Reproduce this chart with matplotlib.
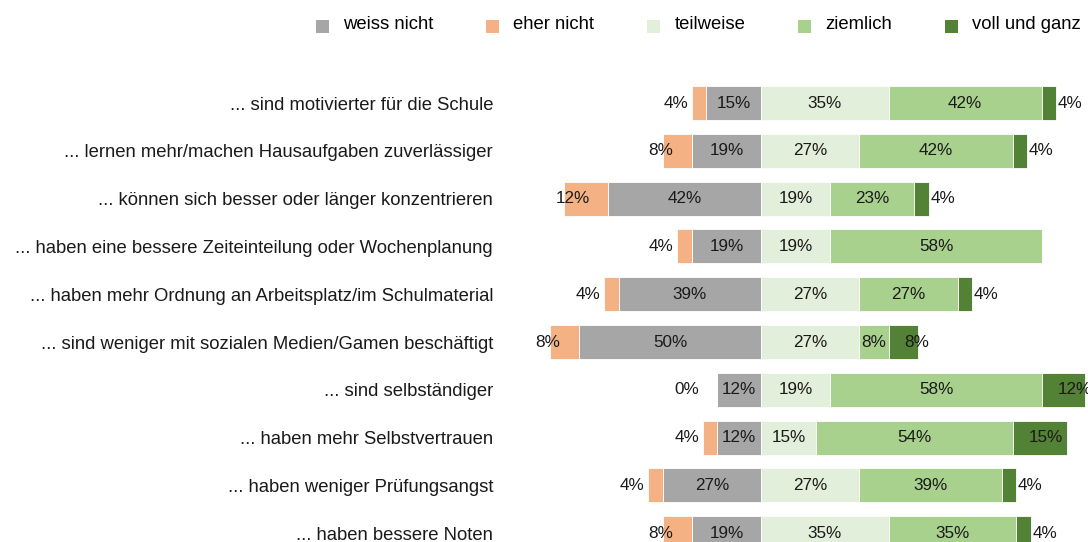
import matplotlib
matplotlib.use("Agg")
import matplotlib.pyplot as plt
from matplotlib.patches import Patch, Rectangle
from matplotlib.legend_handler import HandlerPatch

plt.rcParams['font.family'] = ['Liberation Sans', 'DejaVu Sans']

categories = [
    "... sind motivierter für die Schule",
    "... lernen mehr/machen Hausaufgaben zuverlässiger",
    "... können sich besser oder länger konzentrieren",
    "... haben eine bessere Zeiteinteilung oder Wochenplanung",
    "... haben mehr Ordnung an Arbeitsplatz/im Schulmaterial",
    "... sind weniger mit sozialen Medien/Gamen beschäftigt",
    "... sind selbständiger",
    "... haben mehr Selbstvertrauen",
    "... haben weniger Prüfungsangst",
    "... haben bessere Noten",
]
weiss_nicht = [15, 19, 42, 19, 39, 50, 12, 12, 27, 19]
eher_nicht = [4, 8, 12, 4, 4, 8, 0, 4, 4, 8]
teilweise = [35, 27, 19, 19, 27, 27, 19, 15, 27, 35]
ziemlich = [42, 42, 23, 58, 27, 8, 58, 54, 39, 35]
voll_und_ganz = [4, 4, 4, None, 4, 8, 12, 15, 4, 4]
legend_labels = ["weiss nicht", "eher nicht", "teilweise", "ziemlich", "voll und ganz"]

colors = {
    "weiss": "#a6a6a6",
    "eher": "#f4b183",
    "teil": "#e2efda",
    "ziem": "#a9d18e",
    "voll": "#538135",
}

W, H = 1088, 542
fig = plt.figure(figsize=(W / 100, H / 100), dpi=100)
ax = fig.add_axes([530 / W, 0, 558 / W, 1])

n = len(categories)
y = list(range(n))
bh = 0.71
fs = 12.3
cfs = 13.35
ekw = dict(edgecolor="white", linewidth=0.6)

wn = [-v for v in weiss_nicht]
en = [-v for v in eher_nicht]
ax.barh(y, wn, height=bh, color=colors["weiss"], **ekw)
ax.barh(y, en, left=wn, height=bh, color=colors["eher"], **ekw)
ax.barh(y, teilweise, height=bh, color=colors["teil"], **ekw)
ax.barh(y, ziemlich, left=teilweise, height=bh, color=colors["ziem"], **ekw)
vv = [v if v is not None else 0 for v in voll_und_ganz]
left_v = [t + z for t, z in zip(teilweise, ziemlich)]
ax.barh(y, vv, left=left_v, height=bh, color=colors["voll"], **ekw)

tc = "#1a1a1a"
for i in range(n):
    ax.text(-weiss_nicht[i] / 2, i, f"{weiss_nicht[i]}%", ha="center", va="center", fontsize=fs, color=tc)
    ax.text(-weiss_nicht[i] - 5.0, i, f"{eher_nicht[i]}%", ha="right", va="center", fontsize=fs, color=tc)
    ax.text(teilweise[i] / 2, i, f"{teilweise[i]}%", ha="center", va="center", fontsize=fs, color=tc)
    ax.text(teilweise[i] + ziemlich[i] / 2, i, f"{ziemlich[i]}%", ha="center", va="center", fontsize=fs, color=tc)
    if voll_und_ganz[i] is not None:
        ax.text(left_v[i] + 4.4, i, f"{voll_und_ganz[i]}%", ha="left", va="center", fontsize=fs, color=tc)

ax.set_xlim(-63.4, 89.7)
ax.set_ylim(9.184, -2.155)
ax.set_yticks(y)
ax.set_yticklabels(categories, fontsize=cfs, color=tc)
ax.tick_params(axis="y", length=0, pad=26.6)
ax.set_xticks([])
for s in ax.spines.values():
    s.set_visible(False)


def shifted_square(legend, orig_handle, xdescent, ydescent, width, height, fontsize):
    return Rectangle((-xdescent, -ydescent - 3.2), width, height)


handles = [Patch(facecolor=colors[k], edgecolor="none") for k in ["weiss", "eher", "teil", "ziem", "voll"]]
lfs = 13.3
px_em = lfs * 100 / 72
fig.legend(handles, legend_labels, loc="center left",
           bbox_to_anchor=(316 / W, 1 - 24.5 / H), ncol=5, frameon=False,
           fontsize=lfs, handlelength=13 / px_em, handleheight=13 / px_em,
           handletextpad=14 / px_em, columnspacing=53 / px_em,
           borderpad=0, borderaxespad=0,
           handler_map={Patch: HandlerPatch(patch_func=shifted_square)})

fig.savefig("out.png", dpi=100)
